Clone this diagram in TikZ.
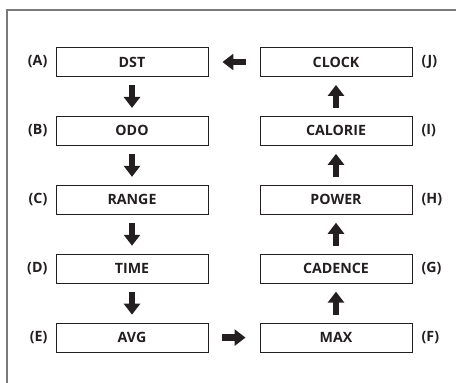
\documentclass[tikz,border=0pt]{standalone}
\usepackage{fontspec}
\setmainfont{Open Sans}
\usetikzlibrary{arrows.meta,positioning}
\definecolor{frameline}{HTML}{7A7A7A}
\definecolor{ink}{HTML}{231F20}

\begin{document}
\begin{tikzpicture}[x=1pt,y=1pt,font=\bfseries\fontsize{14.2}{16}\selectfont,text=ink,
    mode/.style={draw=ink,line width=0.9pt,minimum width=152pt,minimum height=29pt,inner sep=0pt},
    tag/.style={inner sep=0pt},
    blk/.style={draw=ink,line width=6.5pt,-{Triangle[width=16pt,length=11pt]}}]
  \useasboundingbox (0,0) rectangle (456,-383);
  \draw[frameline,line width=1.4pt] (7,-383) -- (7,-10) -- (456,-10);
  % left column
  \node[mode] (dst) at (132,-62) {DST};
  \node[mode,below=39pt of dst] (odo) {ODO};
  \node[mode,below=39pt of odo] (range) {RANGE};
  \node[mode,below=39pt of range] (time) {TIME};
  \node[mode,below=39pt of time] (avg) {AVG};
  % right column
  \node[mode] (clock) at (336,-62) {CLOCK};
  \node[mode,below=39pt of clock] (calorie) {CALORIE};
  \node[mode,below=39pt of calorie] (power) {POWER};
  \node[mode,below=39pt of power] (cadence) {CADENCE};
  \node[mode,below=39pt of cadence] (max) {MAX};
  % letters
  \node[tag,left=8pt of dst] (la) {(A)};
  \node[tag,left=8pt of odo] (lb) {(B)};
  \node[tag,left=8pt of range] (lc) {(C)};
  \node[tag,left=8pt of time] (ld) {(D)};
  \node[tag,left=8pt of avg] (le) {(E)};
  \node[tag,right=9pt of max] (lf) {(F)};
  \node[tag,right=9pt of cadence] (lg) {(G)};
  \node[tag,right=9pt of power] (lh) {(H)};
  \node[tag,right=9pt of calorie] (li) {(I)};
  \node[tag,right=9pt of clock] (lj) {(J)};
  % block arrows
  \foreach \a/\b in {dst/odo,odo/range,range/time,time/avg,max/cadence,cadence/power,power/calorie,calorie/clock}
    \draw[blk,shorten <=8pt,shorten >=8pt] (\a) -- (\b);
  \draw[blk,shorten <=14pt,shorten >=14pt] (avg) -- (max);
  \draw[blk,shorten <=14pt,shorten >=14pt] (clock) -- (dst);
\end{tikzpicture}
\end{document}
